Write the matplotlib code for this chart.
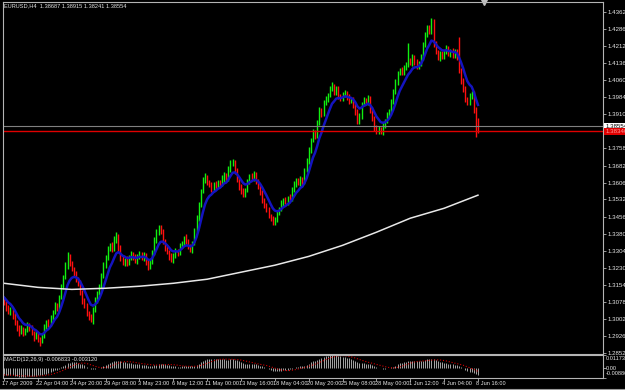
import numpy as np
import matplotlib
matplotlib.use('Agg')
import matplotlib.pyplot as plt
from matplotlib.transforms import blended_transform_factory

plt.rcParams['font.family'] = ['Liberation Sans', 'DejaVu Sans']

# EURUSD H4 closes, 17 Apr 2009 -> 8 Jun 2009
closes = [
    1.3075, 1.3050, 1.3035, 1.3045, 1.3015, 1.2990, 1.2965, 1.2945, 1.2960, 1.2940, 1.2955, 1.2975, 1.2965, 1.2945, 1.2925, 1.2935,
    1.2915, 1.2905, 1.2930, 1.2965, 1.2990, 1.2980, 1.3010, 1.3035, 1.3060, 1.3050, 1.3100, 1.3145, 1.3190, 1.3235, 1.3270, 1.3245,
    1.3225, 1.3205, 1.3180, 1.3160, 1.3120, 1.3085, 1.3060, 1.3030, 1.3010, 1.3000, 1.3045, 1.3085, 1.3115, 1.3150, 1.3195, 1.3240,
    1.3275, 1.3310, 1.3330, 1.3315, 1.3350, 1.3365, 1.3320, 1.3270, 1.3250, 1.3265, 1.3250, 1.3275, 1.3290, 1.3275, 1.3262, 1.3280,
    1.3290, 1.3275, 1.3285, 1.3260, 1.3235, 1.3255, 1.3300, 1.3350, 1.3385, 1.3405, 1.3390, 1.3350, 1.3315, 1.3300, 1.3280, 1.3265,
    1.3285, 1.3305, 1.3295, 1.3325, 1.3340, 1.3360, 1.3345, 1.3325, 1.3310, 1.3340, 1.3395, 1.3450, 1.3510, 1.3570, 1.3615, 1.3630,
    1.3610, 1.3595, 1.3580, 1.3600, 1.3590, 1.3610, 1.3600, 1.3625, 1.3640, 1.3620, 1.3665, 1.3690, 1.3700, 1.3660, 1.3620, 1.3590,
    1.3570, 1.3555, 1.3575, 1.3610, 1.3635, 1.3625, 1.3645, 1.3615, 1.3590, 1.3565, 1.3530, 1.3505, 1.3490, 1.3460, 1.3445, 1.3430,
    1.3445, 1.3470, 1.3490, 1.3515, 1.3530, 1.3520, 1.3540, 1.3535, 1.3575, 1.3600, 1.3615, 1.3605, 1.3625, 1.3610, 1.3660, 1.3700,
    1.3750, 1.3795, 1.3830, 1.3815, 1.3870, 1.3925, 1.3910, 1.3960, 1.3975, 1.3995, 1.4020, 1.4035, 1.4005, 1.4020, 1.3990, 1.3980,
    1.3995, 1.4005, 1.3985, 1.3970, 1.3975, 1.3950, 1.3920, 1.3880, 1.3900, 1.3955, 1.3975, 1.3960, 1.3980, 1.3930, 1.3890, 1.3850,
    1.3835, 1.3845, 1.3830, 1.3860, 1.3880, 1.3905, 1.3925, 1.3965, 1.4010, 1.4050, 1.4090, 1.4105, 1.4095, 1.4115, 1.4130, 1.4145,
    1.4135, 1.4160, 1.4140, 1.4120, 1.4135, 1.4165, 1.4215, 1.4260, 1.4290, 1.4275, 1.4300, 1.4220, 1.4185, 1.4160, 1.4175, 1.4165,
    1.4185, 1.4200, 1.4175, 1.4190, 1.4170, 1.4185, 1.4160, 1.4100, 1.4060, 1.4020, 1.3975, 1.3960, 1.3990, 1.4000, 1.3930, 1.38687, 1.38554,
]
first_open = 1.3090

# wick lengths in pips above / below the candle body
upper_wick = [
    12, 8, 15, 10, 6, 14, 9, 12, 18, 7, 10, 15, 8, 12, 6, 14,
    10, 8, 12, 15, 9, 14, 10, 8, 16, 12, 10, 14, 9, 18, 28, 20,
    15, 10, 12, 8, 14, 10, 9, 12, 8, 15, 10, 14, 12, 8, 10, 15,
    12, 18, 10, 15, 20, 22, 12, 10, 14, 8, 18, 10, 12, 9, 14, 10,
    12, 9, 15, 10, 8, 12, 10, 14, 18, 12, 15, 10, 8, 12, 9, 14,
    10, 12, 8, 15, 10, 12, 18, 10, 12, 8, 10, 14, 12, 10, 15, 18,
    12, 10, 14, 8, 12, 10, 9, 15, 12, 10, 14, 18, 12, 8, 10, 12,
    10, 12, 8, 14, 10, 12, 15, 10, 8, 12, 10, 9, 12, 10, 8, 12,
    10, 12, 8, 14, 10, 12, 9, 15, 10, 12, 14, 10, 12, 8, 10, 15,
    12, 10, 14, 8, 12, 15, 10, 12, 14, 10, 12, 15, 10, 12, 14, 10,
    12, 10, 8, 14, 10, 12, 9, 12, 15, 10, 12, 8, 14, 10, 12, 10,
    10, 12, 8, 14, 10, 12, 9, 12, 10, 14, 12, 10, 15, 12, 10, 80,
    12, 14, 10, 12, 10, 12, 14, 12, 15, 12, 35, 30, 12, 10, 14, 12,
    10, 14, 12, 10, 14, 12, 15, 90, 12, 10, 14, 10, 15, 12, 10, 10, 22.8,
]
lower_wick = [
    10, 12, 8, 14, 10, 12, 15, 18, 10, 12, 8, 10, 14, 12, 18, 10,
    15, 20, 10, 12, 8, 14, 10, 12, 9, 10, 12, 8, 10, 12, 10, 8,
    10, 12, 14, 10, 12, 15, 10, 14, 12, 10, 18, 12, 10, 8, 12, 10,
    12, 10, 8, 14, 10, 12, 15, 12, 10, 14, 12, 10, 9, 12, 10, 14,
    10, 12, 14, 18, 15, 10, 8, 12, 10, 9, 12, 14, 12, 10, 15, 12,
    14, 10, 12, 10, 8, 12, 10, 14, 12, 15, 10, 8, 12, 10, 9, 10,
    12, 10, 14, 12, 10, 9, 12, 10, 14, 12, 8, 10, 12, 14, 12, 15,
    12, 14, 10, 12, 8, 10, 12, 14, 12, 15, 12, 10, 14, 12, 10, 12,
    10, 12, 8, 10, 12, 10, 14, 12, 10, 8, 12, 10, 14, 12, 10, 8,
    10, 12, 8, 14, 10, 8, 12, 10, 8, 12, 10, 9, 12, 10, 12, 14,
    12, 10, 12, 14, 10, 12, 15, 14, 12, 10, 8, 12, 10, 14, 12, 15,
    12, 14, 10, 12, 10, 8, 12, 10, 9, 12, 10, 8, 12, 14, 10, 12,
    10, 12, 14, 12, 10, 12, 14, 10, 8, 10, 12, 14, 10, 12, 15, 12,
    12, 10, 8, 12, 10, 14, 12, 10, 15, 14, 12, 10, 12, 14, 15, 62, 31.3,
]

# long moving average (white), read at the time-label bars
white_ma_bars = [0, 16, 32, 48, 64, 80, 96, 112, 128, 144, 160, 176, 192, 208, 224]
white_ma = [1.3161, 1.3143, 1.3134, 1.3139, 1.3148, 1.3161, 1.3179, 1.3210,
            1.3241, 1.3280, 1.3329, 1.3387, 1.3449, 1.3493, 1.3551]

# indicator state carried in from before the first visible bar
ma_seed = 1.3105
ema_fast_seed = 1.3140
ema_slow_seed = 1.3200

time_labels = ['17 Apr 2009', '22 Apr 04:00', '24 Apr 20:00', '29 Apr 08:00', '3 May 23:00',
               '6 May 12:00', '11 May 00:00', '13 May 16:00', '18 May 04:00', '20 May 20:00',
               '25 May 08:00', '28 May 00:00', '1 Jun 12:00', '4 Jun 04:00', '8 Jun 16:00']
price_ticks = [1.28520, 1.29260, 1.30020, 1.30780, 1.31540, 1.32300, 1.33040, 1.33800,
               1.34560, 1.35320, 1.36060, 1.36820, 1.37580, 1.39100, 1.39840, 1.40600,
               1.41360, 1.42120, 1.42860, 1.43620]
bid_price = 1.38554
hline_price = 1.38340
macd_top = 0.011738
macd_bottom = -0.008866


def ema(values, n, seed):
    a = 2.0 / (n + 1)
    out = []
    prev = seed
    for v in values:
        prev = prev + a * (v - prev)
        out.append(prev)
    return np.array(out)


c = np.array(closes)
o = np.array([first_open] + closes[:-1])
hi = np.maximum(o, c) + np.array(upper_wick) * 0.0001
lo = np.minimum(o, c) - np.array(lower_wick) * 0.0001
x = np.arange(len(c))
up = c >= o

ma = ema(c, 8, ma_seed)
macd = ema(c, 12, ema_fast_seed) - ema(c, 26, ema_slow_seed)
signal = np.array([macd[max(0, i - 8):i + 1].mean() for i in range(len(macd))])

W, H = 625, 390
fig = plt.figure(figsize=(W / 100, H / 100), dpi=100, facecolor='black')
ax = fig.add_axes([3 / W, 1 - 354 / H, 600 / W, 352 / H], facecolor='black')
ax2 = fig.add_axes([3 / W, 1 - 378 / H, 600 / W, 23 / H], facecolor='black')

frame = '#b4b4b4'
txt = '#e6e6e6'
fs = 4.1

ax.vlines(x[up], lo[up], hi[up], color='#10f010', lw=1.0)
ax.vlines(x[~up], lo[~up], hi[~up], color='#ff1010', lw=1.0)
ax.plot(x, ma, color='#1414c0', lw=1.8)
ax.plot(white_ma_bars, white_ma, color='#e8e8e8', lw=1.1)
ax.axhline(bid_price, color='#808080', lw=0.8)
ax.axhline(hline_price, color='#e00000', lw=1.0)

ax.set_xlim(-0.5, 283.1)
ax.set_ylim(1.2848, 1.4406)
ax.set_xticks([])
ax.set_yticks(price_ticks)
ax.set_yticklabels(['%.5f' % t for t in price_ticks])
ax.yaxis.tick_right()
ax.tick_params(axis='y', length=2, width=0.6, color=frame, labelcolor=txt,
               labelsize=4.4, pad=1.5)
for s in ax.spines.values():
    s.set_color(frame)
    s.set_linewidth(0.8)

# price boxes on the right scale
yt = blended_transform_factory(ax.transAxes, ax.transData)
ax.text(1.004, bid_price, '%.5f' % bid_price, transform=yt, fontsize=4.4, color='black',
        va='center', ha='left', bbox=dict(boxstyle='square,pad=0.15', fc='white', ec='none'))
ax.text(1.004, hline_price, '%.5f' % hline_price, transform=yt, fontsize=4.4, color='#ff9a9a',
        va='center', ha='left', bbox=dict(boxstyle='square,pad=0.15', fc='#e00000', ec='none'))

# chart shift marker
ax.plot([len(c) + 1.7], [1.4406], marker='v', ms=4, color='#c0c0c0', clip_on=False)

# MACD panel
ax2.vlines(x, 0, macd, color='#c0c0c0', lw=0.6)
ax2.plot(x, signal, color='#d00000', lw=0.8, ls=':')
ax2.set_xlim(-0.5, 283.1)
ax2.set_ylim(macd_bottom, macd_top)
ax2.set_yticks([macd_top, 0, macd_bottom])
ax2.set_yticklabels([])
ax2.yaxis.tick_right()
ax2.tick_params(axis='y', length=2, width=0.6, color=frame)
ax2.set_xticks(white_ma_bars)
ax2.set_xticklabels([])
ax2.tick_params(axis='x', length=2, width=0.6, color=frame, direction='out')
for s in ax2.spines.values():
    s.set_color(frame)
    s.set_linewidth(0.8)


def px(xp, yp):
    return xp / W, 1 - yp / H


fig.text(*px(606, 358), '%.6f' % macd_top, fontsize=fs, color=txt, va='center')
fig.text(*px(606, 368), '0.00', fontsize=fs, color=txt, va='center')
fig.text(*px(606, 373.5), '%.6f' % macd_bottom, fontsize=fs, color=txt, va='center')

fig.text(*px(4, 6), 'EURUSD,H4  1.38687 1.38915 1.38241 1.38554', fontsize=fs, color=txt, va='center')
fig.text(*px(4, 360), 'MACD(12,26,9) -0.006833 -0.003120', fontsize=fs, color=txt, va='center')

tt = blended_transform_factory(ax2.transData, fig.transFigure)
for b, lab in zip(white_ma_bars, time_labels):
    ax2.text(b - 0.8, 1 - 383.5 / H, lab, transform=tt, fontsize=fs, color=txt,
             va='center', ha='left')

fig.add_artist(plt.Line2D([0, 1], [1 - 388.5 / H] * 2, transform=fig.transFigure,
                          color='#9a9a9a', lw=0.8))

fig.savefig('out.png', dpi=100, facecolor='black')
